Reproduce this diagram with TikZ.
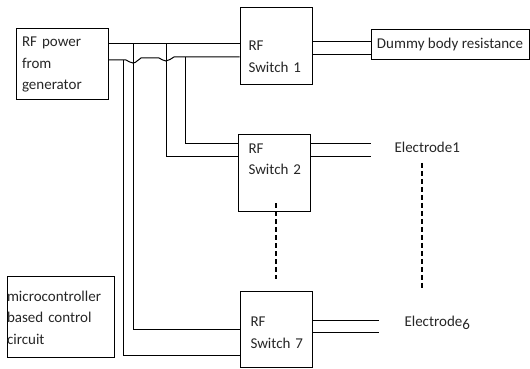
\documentclass[tikz,border=0pt]{standalone}
\usepackage{fontspec}
\setmainfont{Carlito}
\usetikzlibrary{calc,positioning}

\begin{document}
\begin{tikzpicture}[x=1pt,y=1pt,line width=1pt,
 font=\fontsize{15}{21.5}\selectfont,
 blk/.style={draw,inner sep=0pt,text=black!85},
 swtxt/.style={inner sep=0pt,anchor=west,align=left,text width=60pt,text=black!85},
 vdash/.style={line width=2.2pt,dash pattern=on 5pt off 3pt}]
\useasboundingbox (0,0) rectangle (530,369);
\node[blk,minimum width=92pt,minimum height=71pt,inner xsep=6pt,text width=80pt,align=left] (rfp) at (62,304.5) {RF power\\from\\generator};
\node[blk,minimum width=107pt,minimum height=81pt,text width=107pt,align=left] (mcu) at (60.5,51.5) {microcontroller\\based control\\circuit};
\node[blk,minimum width=72pt,minimum height=77pt] (sw1) at (276,322.5) {};
\node[blk,minimum width=72pt,minimum height=77pt] (sw2) at (274,195.5) {};
\node[blk,minimum width=72pt,minimum height=76pt] (sw7) at (276,39) {};
\node[swtxt] (sw1t) at (248,312.5) {RF\\Switch 1};
\node[swtxt] (sw2t) at (248,210) {RF\\Switch 2};
\node[swtxt] (sw7t) at (250,36.5) {RF\\Switch 7};
\node[blk,minimum width=158pt,minimum height=30pt] (dum) at (450,324) {Dummy body resistance};
\node[inner sep=0pt,anchor=base west,text=black!85] (el1) at (394,216) {Electrode1};
\node[inner sep=0pt,anchor=base west,text=black!85] (el6) at (404,42) {Electrode\raisebox{-3pt}{6}};
\coordinate (tapA) at (123,309);
\coordinate (tapB) at (133,325);
\coordinate (tapC) at (166,325);
\coordinate (tapD) at (185,312);
\coordinate (e1end) at (371,0);
\coordinate (e6end) at (379,0);
\coordinate (dA) at (276,90);
\coordinate (dB1) at (422,206);
\coordinate (dB2) at (422,79);
\draw ([yshift=20.5pt]rfp.east) -- ([yshift=20.5pt]rfp.east -| sw1.west);
\draw ([yshift=4.5pt]rfp.east) -- (126,309) to[out=-20,in=180] (133,306) to[out=0,in=200] (141,311)
 -- (159,311) to[out=-20,in=180] (166,308) to[out=0,in=200] (174,312) -- ([yshift=-10.5pt]sw1.west);
\draw (tapA) |- ([yshift=-26pt]sw7.west);
\draw (tapB) |- (sw7.west);
\draw (tapC) |- ([yshift=16.5pt]sw2.west);
\draw (tapD) |- ([yshift=29.5pt]sw2.west);
\foreach \d in {4.5,-8.5}{\draw ([yshift=\d pt]sw1.east) -- ([yshift=\d pt]sw1.east -| dum.west);}
\foreach \d in {29.5,16.5}{\draw ([yshift=\d pt]sw2.east) -- ([yshift=\d pt]sw2.east -| e1end);}
\foreach \d in {9,-3}{\draw ([yshift=\d pt]sw7.east) -- ([yshift=\d pt]sw7.east -| e6end);}
\draw[vdash] ([yshift=9pt]sw2.south -| dA) -- (dA);
\draw[vdash] (dB1) -- (dB2);
\end{tikzpicture}
\end{document}
